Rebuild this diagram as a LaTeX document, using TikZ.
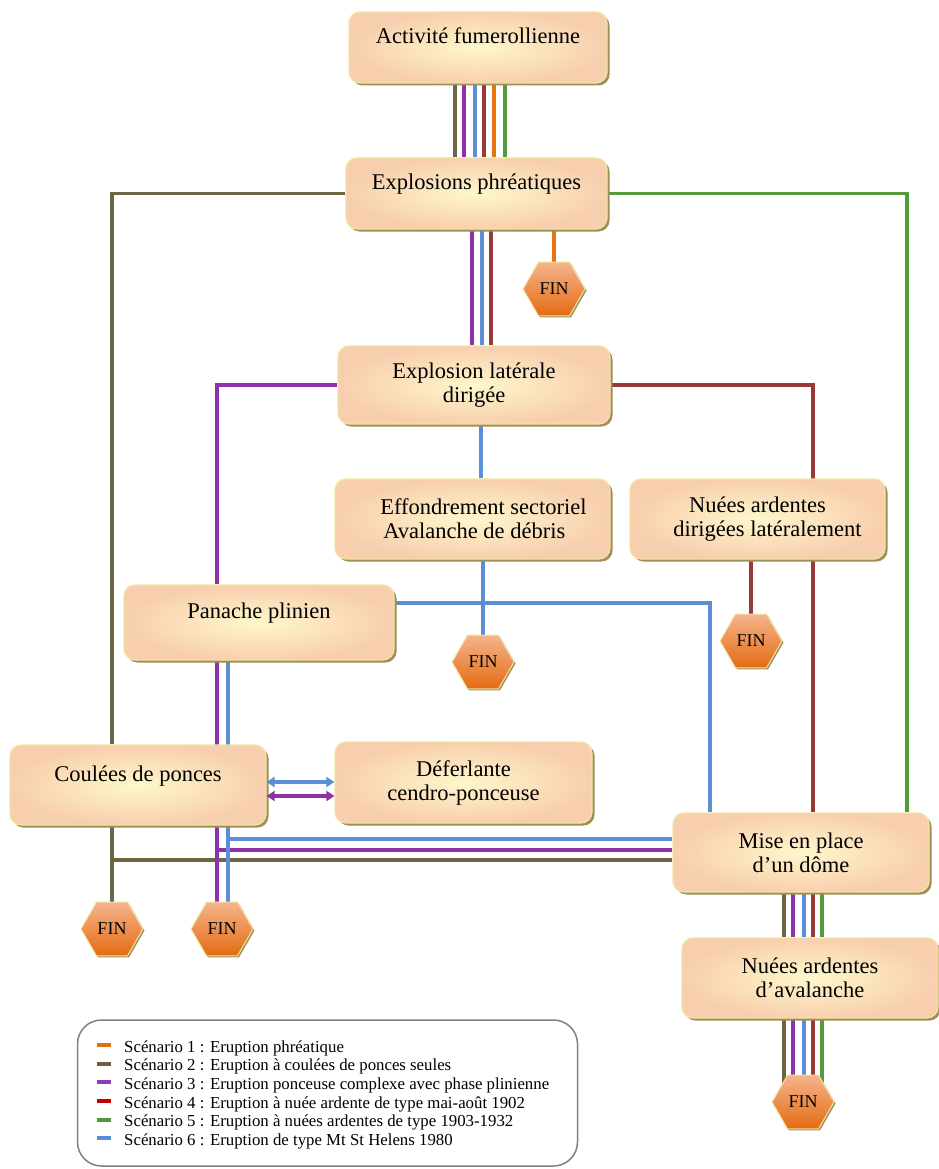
\documentclass[tikz,border=0pt]{standalone}
\usepackage{fontspec}
\setmainfont{Liberation Serif}
\usetikzlibrary{shapes.geometric,shadows,arrows.meta}
\definecolor{cOlive}{HTML}{6E6643}
\definecolor{cPurple}{HTML}{8E32A8}
\definecolor{cBlue}{HTML}{5A8ED6}
\definecolor{cRed}{HTML}{983A38}
\definecolor{cOrange}{HTML}{E8730F}
\definecolor{cGreen}{HTML}{559B3C}
\definecolor{boxIn}{HTML}{FEF7CB}
\definecolor{boxOut}{HTML}{F8CFAE}
\definecolor{boxEdge}{HTML}{F4E4A2}
\definecolor{boxShadow}{HTML}{9E8E58}
\definecolor{finTop}{HTML}{F5B48C}
\definecolor{finBot}{HTML}{E46B12}
\definecolor{legEdge}{HTML}{808080}
\definecolor{lgOrange}{HTML}{E46C0A}
\definecolor{lgOlive}{HTML}{6B6343}
\definecolor{lgPurple}{HTML}{8B3FB0}
\definecolor{lgRed}{HTML}{C00000}
\definecolor{lgGreen}{HTML}{4F9A3A}
\definecolor{lgBlue}{HTML}{558ED5}
\pgfdeclarelayer{bg}
\pgfsetlayers{bg,main}
\newcommand\boxfont{\fontsize{22.5}{24}\selectfont}
\newcommand\finfont{\fontsize{18}{20}\selectfont}
\newcommand\legfont{\fontsize{16.8}{18.7}\selectfont}
\begin{document}
\begin{tikzpicture}[x=1pt,y=-1pt,
  box/.style={rounded corners=11pt, draw=boxEdge, line width=1.2pt,
    inner color=boxIn, outer color=boxOut,
    general shadow={fill=boxShadow, shadow xshift=2.5pt, shadow yshift=-2.5pt},
    font=\boxfont, align=center, inner sep=0pt},
  one/.style={text height=16pt, text depth=24pt},
  fin/.style={regular polygon, regular polygon sides=6, minimum size=62pt,
    inner sep=0pt, top color=finTop, bottom color=finBot, draw=boxEdge,
    line width=1pt,
    general shadow={fill=boxShadow, shadow xshift=1.5pt, shadow yshift=-1.5pt},
    font=\finfont},
  ln/.style={line width=3.6pt},
  arr/.style={line width=3.2pt, arrows={Triangle[length=8pt,width=10pt]-Triangle[length=8pt,width=10pt]}},
  legbox/.style={draw=legEdge, line width=1.5pt, rounded corners=24pt, minimum width=500pt, minimum height=146pt, inner sep=0pt},
  legsw/.style={rectangle, minimum width=14pt, minimum height=4pt, inner sep=0pt, draw=none},
  leg/.style={anchor=base west, font=\legfont, inner sep=0pt}
]
% boxes
\node[box,one,minimum width=258pt,minimum height=71pt] (A) at (478,47.5) {Activité fumerollienne};
\node[box,one,minimum width=261pt,minimum height=71pt] (B) at (476.5,193.5) {Explosions phréatiques};
\node[box,minimum width=272pt,minimum height=78pt] (C) at (474,385) {Explosion latérale\\dirigée};
\node[box,minimum width=275pt,minimum height=80pt,align=left] (D) at (472.5,519) {\hspace*{22pt}Effondrement sectoriel\\\hspace*{25pt}Avalanche de débris};
\node[box,minimum width=255pt,minimum height=80pt] (E) at (757.5,519) {Nuées ardentes\\\hspace*{20pt}dirigées latéralement};
\node[box,one,minimum width=270pt,minimum height=75pt] (F) at (259,622.5) {Panache plinien};
\node[box,one,minimum width=256pt,minimum height=80pt] (G) at (138,785) {Coulées de ponces};
\node[box,minimum width=257pt,minimum height=81pt] (H) at (463.5,782.5) {Déferlante\\cendro-ponceuse};
\node[box,minimum width=256pt,minimum height=79pt] (I) at (801,852.5) {Mise en place\\d’un dôme};
\node[box,minimum width=256pt,minimum height=80pt] (J) at (810,978) {Nuées ardentes\\d’avalanche};
% end hexagons
\node[fin] (F1) at (554,289) {FIN};
\node[fin] (F2) at (483,662) {FIN};
\node[fin] (F3) at (751,641) {FIN};
\node[fin] (F4) at (112,929) {FIN};
\node[fin] (F5) at (222,929) {FIN};
\node[fin] (F6) at (803,1102) {FIN};
% legend
\node[legbox] (L) at (327.5,1093) {};
\node[legsw,fill=lgOrange] (s1) at (104,1045) {};
\node[legsw,fill=lgOlive] (s2) at (104,1063.7) {};
\node[legsw,fill=lgPurple] (s3) at (104,1082.4) {};
\node[legsw,fill=lgRed] (s4) at (104,1101) {};
\node[legsw,fill=lgGreen] (s5) at (104,1119.7) {};
\node[legsw,fill=lgBlue] (s6) at (104,1138.4) {};
\node[leg] (t1) at (124,1052) {Scénario 1 : Eruption phréatique};
\node[leg] (t2) at (124,1070.7) {Scénario 2 : Eruption à coulées de ponces seules};
\node[leg] (t3) at (124,1089.4) {Scénario 3 : Eruption ponceuse complexe avec phase plinienne};
\node[leg] (t4) at (124,1108) {Scénario 4 : Eruption à nuée ardente de type mai-août 1902};
\node[leg] (t5) at (124,1126.7) {Scénario 5 : Eruption à nuées ardentes de type 1903-1932};
\node[leg] (t6) at (124,1145.4) {Scénario 6 : Eruption de type Mt St Helens 1980};
% double arrows
\draw[arr,cBlue] (G.east |- 0,782) -- (H.west |- 0,782);
\draw[arr,cPurple] (G.east |- 0,796) -- (H.west |- 0,796);
\begin{pgfonlayer}{bg}
\fill[white,use as bounding box] (0,0) rectangle (932,1169);
% A -> B
\draw[ln,cOlive] (A.south -| 455,0) -- (B.north -| 455,0);
\draw[ln,cPurple] (A.south -| 464,0) -- (B.north -| 464,0);
\draw[ln,cBlue] (A.south -| 475,0) -- (B.north -| 475,0);
\draw[ln,cRed] (A.south -| 484,0) -- (B.north -| 484,0);
\draw[ln,cOrange] (A.south -| 494,0) -- (B.north -| 494,0);
\draw[ln,cGreen] (A.south -| 505,0) -- (B.north -| 505,0);
% B -> C, F1
\draw[ln,cPurple] (B.south -| 472,0) -- (C.north -| 472,0);
\draw[ln,cBlue] (B.south -| 482,0) -- (C.north -| 482,0);
\draw[ln,cRed] (B.south -| 491,0) -- (C.north -| 491,0);
\draw[ln,cOrange] (B.south -| 554,0) -- (F1.center);
% olive scenario
\draw[ln,cOlive] (B.west) -| (G.north -| 112,0);
\draw[ln,cOlive] (G.south -| 112,0) -- (F4.center);
\draw[ln,cOlive] (G.south -| 112,0) |- (I.west |- 0,860);
% green scenario
\draw[ln,cGreen] (B.east) -| (I.north -| 907,0);
% purple scenario
\draw[ln,cPurple] (C.west) -| (F.north -| 217,0);
\draw[ln,cPurple] (F.south -| 217,0) -- (F5.center -| 217,0);
\draw[ln,cPurple] (F.south -| 217,0) |- (I.west |- 0,850);
% red scenario
\draw[ln,cRed] (C.east) -| (I.north -| 813,0);
\draw[ln,cRed] (E.south -| 751,0) -- (F3.center);
% blue scenario
\draw[ln,cBlue] (C.south -| 481,0) -- (D.north -| 481,0);
\draw[ln,cBlue] (D.south -| 483,0) -- (F2.center);
\draw[ln,cBlue] (F.east |- 0,603) -| (I.north -| 710,0);
\draw[ln,cBlue] (F.south -| 228,0) -- (F5.center -| 228,0);
\draw[ln,cBlue] (F.south -| 228,0) |- (I.west |- 0,839);
% I -> J -> F6
\draw[ln,cOlive] (I.south -| 784,0) -- (J.north -| 784,0);
\draw[ln,cPurple] (I.south -| 793,0) -- (J.north -| 793,0);
\draw[ln,cBlue] (I.south -| 804,0) -- (J.north -| 804,0);
\draw[ln,cRed] (I.south -| 813,0) -- (J.north -| 813,0);
\draw[ln,cGreen] (I.south -| 822,0) -- (J.north -| 822,0);
\draw[ln,cOlive] (J.south -| 784,0) -- (F6.center -| 784,0);
\draw[ln,cPurple] (J.south -| 793,0) -- (F6.center -| 793,0);
\draw[ln,cBlue] (J.south -| 804,0) -- (F6.center -| 804,0);
\draw[ln,cRed] (J.south -| 813,0) -- (F6.center -| 813,0);
\draw[ln,cGreen] (J.south -| 822,0) -- (F6.center -| 822,0);
\end{pgfonlayer}
\end{tikzpicture}
\end{document}
